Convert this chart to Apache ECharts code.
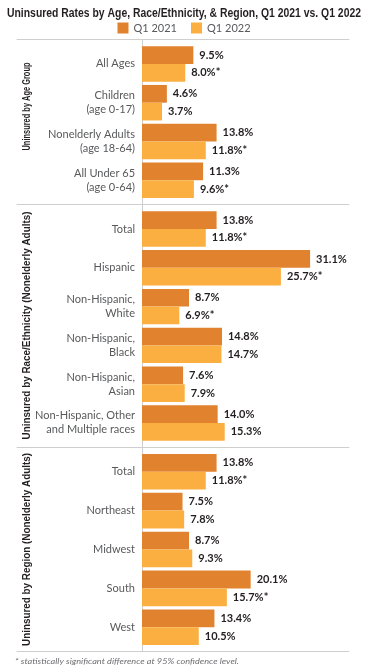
<!DOCTYPE html>
<html><head><meta charset="utf-8">
<script src="https://cdn.jsdelivr.net/npm/echarts@6/dist/echarts.min.js"></script>
<style>html,body{margin:0;padding:0;background:#fff}#c{width:368px;height:667px}</style>
</head><body><div id="c"></div>
<script>
const ageCats = ['All Ages','Children\n(age 0-17)','Nonelderly Adults\n(age 18-64)','All Under 65\n(age 0-64)'];
const age2021 = [9.5, 4.6, 13.8, 11.3];
const age2022 = [8.0, 3.7, 11.8, 9.6];
const ageSig2022 = [true, false, true, true];

const raceCats = ['Total','Hispanic','Non-Hispanic,\nWhite','Non-Hispanic,\nBlack','Non-Hispanic,\nAsian','Non-Hispanic, Other\nand Multiple races'];
const race2021 = [13.8, 31.1, 8.7, 14.8, 7.6, 14.0];
const race2022 = [11.8, 25.7, 6.9, 14.7, 7.9, 15.3];
const raceSig2022 = [true, true, true, false, false, false];

const regionCats = ['Total','Northeast','Midwest','South','West'];
const region2021 = [13.8, 7.5, 8.7, 20.1, 13.4];
const region2022 = [11.8, 7.8, 9.3, 15.7, 10.5];
const regionSig2022 = [true, false, false, true, false];

const groupNames = ['Uninsured by Age Group','Uninsured by Race/Ethnicity (Nonelderly Adults)','Uninsured by Region (Nonelderly Adults)'];
const seriesNames = ['Q1 2021','Q1 2022'];
const titleText = 'Uninsured Rates by Age, Race/Ethnicity, & Region, Q1 2021 vs. Q1 2022';
const footText = '* statistically significant difference at 95% confidence level.';

const groups = [
  {cats: ageCats, a: age2021, b: age2022, sig: ageSig2022},
  {cats: raceCats, a: race2021, b: race2022, sig: raceSig2022},
  {cats: regionCats, a: region2021, b: region2022, sig: regionSig2022}
];

const W = 368, H = 667;
const sepY = [39.5, 204.7, 447.3, 651.7];
const pad = 5;
const L = 17, R = 19;
const xMin = -23.13, xMax = 38.30;
const zeroX = L + (W - L - R) * (-xMin) / (xMax - xMin);
const colors = ['#E1822F', '#FAAF40'];
const lineCol = '#cfcfcf';
const boldFont = '"Liberation Sans", Arial, sans-serif';
const bodyFont = 'Lato, "Noto Sans", sans-serif';
// layout of rotated group names: [centre y, length]
const grpLayout = [[106.5, 88], [325.5, 228], [549.5, 193]];

const ctx = document.createElement('canvas').getContext('2d');
function measure(text, font) { ctx.font = font; return ctx.measureText(text).width; }

const grid = [], xAxis = [], yAxis = [], series = [];
groups.forEach((g, i) => {
  grid.push({left: L, right: R, top: sepY[i] + pad, bottom: H - (sepY[i+1] - pad), containLabel: false, outerBoundsMode: 'none'});
  xAxis.push({gridIndex: i, type: 'value', min: xMin, max: xMax, position: 'top', offset: pad,
    axisLine: {show: true, onZero: false, lineStyle: {color: lineCol, width: 1}},
    axisTick: {show: false}, axisLabel: {show: false}, splitLine: {show: false}});
  yAxis.push({gridIndex: i, type: 'category', inverse: true, data: g.cats,
    axisLine: {show: true, onZero: true, lineStyle: {color: lineCol, width: 1}},
    axisTick: {show: false},
    axisLabel: {margin: 7 - (zeroX - L), color: '#58595b', fontSize: 11, lineHeight: 14, fontFamily: bodyFont, align: 'right'}});
});
xAxis.push({gridIndex: 2, type: 'value', min: xMin, max: xMax, position: 'bottom', offset: pad,
  axisLine: {show: true, onZero: false, lineStyle: {color: lineCol, width: 1}},
  axisTick: {show: false}, axisLabel: {show: false}, splitLine: {show: false}});
grid.push({left: L, right: R, top: sepY[0], bottom: H - sepY[3], containLabel: false, outerBoundsMode: 'none'});
xAxis.push({gridIndex: 3, type: 'value', min: xMin, max: xMax, show: false});
yAxis.push({gridIndex: 3, type: 'value', min: 0, max: 1,
  axisLine: {show: true, onZero: true, lineStyle: {color: lineCol, width: 1}},
  axisTick: {show: false}, axisLabel: {show: false}, splitLine: {show: false}});

groups.forEach((g, i) => {
  [g.a, g.b].forEach((vals, k) => {
    series.push({
      type: 'bar', name: seriesNames[k], xAxisIndex: i, yAxisIndex: i,
      data: vals, barGap: '0%', barCategoryGap: '8.5%',
      itemStyle: {color: colors[k]},
      label: {show: true, position: 'right', distance: 6, fontWeight: 'bold', fontSize: 11,
        color: '#231f20', fontFamily: bodyFont,
        formatter: p => vals[p.dataIndex].toFixed(1) + '%' + (k === 1 && g.sig[p.dataIndex] ? '*' : '')}
    });
  });
});

const titleFont = 'bold 13px ' + boldFont;
const titleScale = 354 / measure(titleText, titleFont);
const grpFont = 'bold 11px ' + boldFont;
const footFont = 'italic 8.5px ' + bodyFont;
const footScale = 224 / measure(footText, footFont);

const graphic = [
  {type: 'text', x: 184, y: 13, scaleX: titleScale,
    style: {text: titleText, font: titleFont, fill: '#231f20', align: 'center', verticalAlign: 'middle'}},
  {type: 'text', x: 15, y: 661, scaleX: footScale,
    style: {text: footText, font: footFont, fill: '#6d6e71', align: 'left', verticalAlign: 'middle'}}
];
groupNames.forEach((n, i) => {
  graphic.push({type: 'text', x: 27, y: grpLayout[i][0], rotation: Math.PI / 2,
    scaleX: grpLayout[i][1] / measure(n, grpFont),
    style: {text: n, font: grpFont, fill: '#231f20', align: 'center', verticalAlign: 'middle'}});
});

const chart = echarts.init(document.getElementById('c'), null, {renderer: 'canvas'});
chart.setOption({
  animation: false,
  backgroundColor: '#fff',
  legend: {data: seriesNames, top: 22.5, left: 'center', padding: 0, icon: 'rect', itemWidth: 11, itemHeight: 11, itemGap: 14,
    textStyle: {fontSize: 11, color: '#58595b', fontFamily: bodyFont}},
  grid, xAxis, yAxis, series, graphic
});
</script></body></html>
